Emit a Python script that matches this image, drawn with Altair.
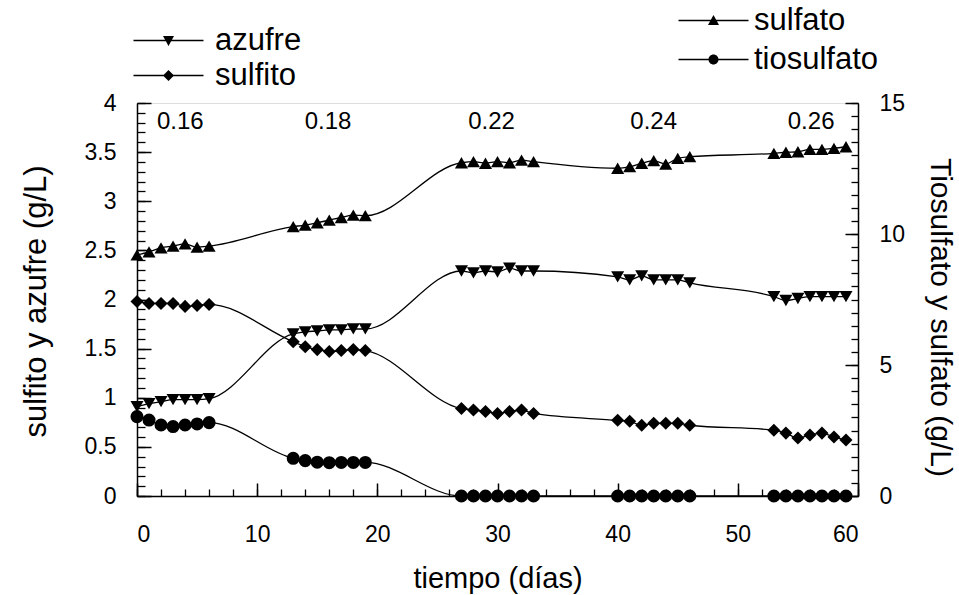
import altair as alt
import pandas as pd

FONT = "Liberation Sans"

# sampling days: five steady states of seven daily samples each
dias = [0, 1, 2, 3, 4, 5, 6,
        13, 14, 15, 16, 17, 18, 19,
        27, 28, 29, 30, 31, 32, 33,
        40, 41, 42, 43, 44, 45, 46,
        53, 54, 55, 56, 57, 58, 59]

# left axis (g/L)
azufre = [0.91, 0.94, 0.96, 0.98, 0.98, 0.98, 0.99,
          1.65, 1.67, 1.68, 1.69, 1.69, 1.70, 1.70,
          2.29, 2.27, 2.29, 2.28, 2.32, 2.29, 2.29,
          2.23, 2.20, 2.24, 2.20, 2.20, 2.20, 2.17,
          2.03, 1.99, 2.01, 2.03, 2.03, 2.03, 2.03]
sulfito = [1.98, 1.96, 1.96, 1.96, 1.93, 1.94, 1.95,
           1.57, 1.52, 1.49, 1.47, 1.48, 1.49, 1.48,
           0.89, 0.875, 0.86, 0.84, 0.86, 0.875, 0.84,
           0.77, 0.76, 0.72, 0.74, 0.74, 0.74, 0.72,
           0.67, 0.64, 0.59, 0.62, 0.64, 0.60, 0.57]

# right axis (g/L)
sulfato = [9.20, 9.32, 9.47, 9.54, 9.62, 9.50, 9.54,
           10.28, 10.34, 10.43, 10.53, 10.63, 10.72, 10.70,
           12.72, 12.76, 12.70, 12.76, 12.72, 12.82, 12.76,
           12.51, 12.57, 12.70, 12.80, 12.67, 12.89, 12.95,
           13.08, 13.12, 13.14, 13.23, 13.23, 13.27, 13.33]
tiosulfato = [3.03, 2.90, 2.71, 2.65, 2.71, 2.75, 2.80,
              1.44, 1.35, 1.29, 1.27, 1.28, 1.28, 1.28,
              0, 0, 0, 0, 0, 0, 0,
              0, 0, 0, 0, 0, 0, 0,
              0, 0, 0, 0, 0, 0, 0]

# dilution rate of each steady state, written above its group
tasas = ["0.16", "0.18", "0.22", "0.24", "0.26"]
tasa_dias = [3.6, 15.9, 29.5, 43.0, 56.1]
tasa_nivel = [3.81] * 5

n = len(dias)
izq = pd.DataFrame({"dia": dias * 2, "valor": azufre + sulfito,
                    "serie": ["azufre"] * n + ["sulfito"] * n})
der = pd.DataFrame({"dia": dias * 2, "valor": sulfato + tiosulfato,
                    "serie": ["sulfato"] * n + ["tiosulfato"] * n})
rotulos = pd.DataFrame({"dia": tasa_dias, "valor": tasa_nivel, "tasa": tasas})

xs = alt.Scale(domain=[0, 60], nice=False, zero=False)
ys_izq = alt.Scale(domain=[0, 4], nice=False, zero=False)
ys_der = alt.Scale(domain=[0, 15], nice=False, zero=False)

base_axis = dict(grid=False, domainColor="black", tickColor="black",
                 labelColor="black", titleColor="black", labelFont=FONT,
                 titleFont=FONT, labelFontSize=23,
                 titleFontWeight="normal", domainWidth=1.5, tickWidth=1.5)


def minor(values, size, orient):
    return alt.Axis(values=values, orient=orient, labels=False, domain=False,
                    ticks=True, tickSize=alt.ExprRef(expr=str(-size)),
                    tickColor="black", tickWidth=1.3, grid=False, title=None)


eje_x = alt.Axis(orient="bottom", values=list(range(0, 61, 10)),
                 tickSize=alt.ExprRef(expr="-13"), labelPadding=40,
                 title="tiempo (días)", titleFontSize=29, titleX=360.5, titleY=82,
                 titleBaseline="middle", titleAlign="center", **base_axis)
eje_izq = alt.Axis(orient="left", values=[i / 2 for i in range(9)], format="~g",
                   tickSize=alt.ExprRef(expr="-14"), labelPadding=35,
                   title="sulfito y azufre (g/L)", titleFontSize=31,
                   titleAngle=270, titleX=-101, titleY=198,
                   titleBaseline="middle", titleAlign="center", **base_axis)
eje_der = alt.Axis(orient="right", values=[0, 5, 10, 15],
                   tickSize=alt.ExprRef(expr="-13"), labelPadding=34,
                   title="Tiosulfato y sulfato (g/L)", titleFontSize=30,
                   titleAngle=90, titleX=81, titleY=214,
                   titleBaseline="middle", titleAlign="center", **base_axis)

linea = dict(interpolate="monotone", color="black", strokeWidth=1.3)
punto = dict(filled=True, color="black", opacity=1, size=170)

linea_izq = alt.Chart(izq).mark_line(**linea).encode(
    x=alt.X("dia:Q", scale=xs, axis=eje_x),
    y=alt.Y("valor:Q", scale=ys_izq, axis=eje_izq),
    detail="serie:N",
)
puntos_izq = alt.Chart(izq).mark_point(**punto).encode(
    x=alt.X("dia:Q", scale=xs, axis=minor(list(range(0, 61, 2)), 7, "bottom")),
    y=alt.Y("valor:Q", scale=ys_izq,
            axis=minor([i / 10 for i in range(41)], 8, "left")),
    shape=alt.Shape("serie:N", legend=None,
                    scale=alt.Scale(domain=["azufre", "sulfito"],
                                    range=["triangle-down", "diamond"])),
)
textos = alt.Chart(rotulos).mark_text(
    font=FONT, fontSize=24, color="black", align="center", baseline="middle"
).encode(
    x=alt.X("dia:Q", scale=xs, axis=None),
    y=alt.Y("valor:Q", scale=ys_izq, axis=None),
    text="tasa:N",
)
izquierda = alt.layer(linea_izq, puntos_izq, textos).resolve_axis(
    x="independent", y="independent")

linea_der = alt.Chart(der).mark_line(**linea).encode(
    x=alt.X("dia:Q", scale=xs, axis=None),
    y=alt.Y("valor:Q", scale=ys_der, axis=eje_der),
    detail="serie:N",
)
puntos_der = alt.Chart(der).mark_point(**punto).encode(
    x=alt.X("dia:Q", scale=xs, axis=None),
    y=alt.Y("valor:Q", scale=ys_der,
            axis=minor([i / 2 for i in range(31)], 7, "right")),
    shape=alt.Shape("serie:N", legend=None,
                    scale=alt.Scale(domain=["sulfato", "tiosulfato"],
                                    range=["triangle-up", "circle"])),
)
derecha = alt.layer(linea_der, puntos_der).resolve_axis(
    x="independent", y="independent")

# legend symbols: a thin filled bar (the line) with the series marker in its
# middle; all sub-paths wound the same way so the fill stays solid
TRAZO = "M-7,-0.13L7,-0.13L7,0.13L-7,0.13Z"
S_AZUFRE = TRAZO + "M-1.1,-0.9L1.1,-0.9L0,1.1Z"
S_SULFITO = TRAZO + "M0,-1.1L1.1,0L0,1.1L-1.1,0Z"
S_SULFATO = TRAZO + "M-1.1,0.9L0,-1.1L1.1,0.9Z"
S_TIOSULFATO = TRAZO + "M-1,0A1,1,0,1,1,1,0A1,1,0,1,1,-1,0Z"


def leyenda(df, dominio, formas, x, y, sep, offset):
    return alt.Chart(df).transform_filter("false").mark_point(
        filled=True, color="black", opacity=1
    ).encode(
        shape=alt.Shape("serie:N",
                        scale=alt.Scale(domain=dominio, range=formas),
                        legend=alt.Legend(
                            title=None, orient="none", legendX=x, legendY=y,
                            symbolSize=100, labelOffset=offset, rowPadding=sep,
                            labelFont=FONT, labelFontSize=31, labelColor="black",
                            symbolFillColor="black", symbolStrokeWidth=0,
                            symbolOpacity=1, padding=0)),
    )


leyenda_izq = leyenda(izq, ["azufre", "sulfito"], [S_AZUFRE, S_SULFITO],
                      16, -78, 3, 31)
leyenda_der = leyenda(der, ["sulfato", "tiosulfato"], [S_SULFATO, S_TIOSULFATO],
                      561, -98, 7, 25)

chart = alt.layer(izquierda, derecha, leyenda_izq, leyenda_der).resolve_scale(
    y="independent", shape="independent"
).resolve_axis(
    x="independent", y="independent"
).resolve_legend(
    shape="independent"
).properties(
    width=721, height=393,
    autosize=alt.AutoSizeParams(type="none"),
    padding={"left": 137, "top": 103, "right": 101, "bottom": 99},
    background="white",
).configure_view(stroke=None).configure(font=FONT)

chart.save("out.html", embed_options={"renderer": "svg", "actions": False})
